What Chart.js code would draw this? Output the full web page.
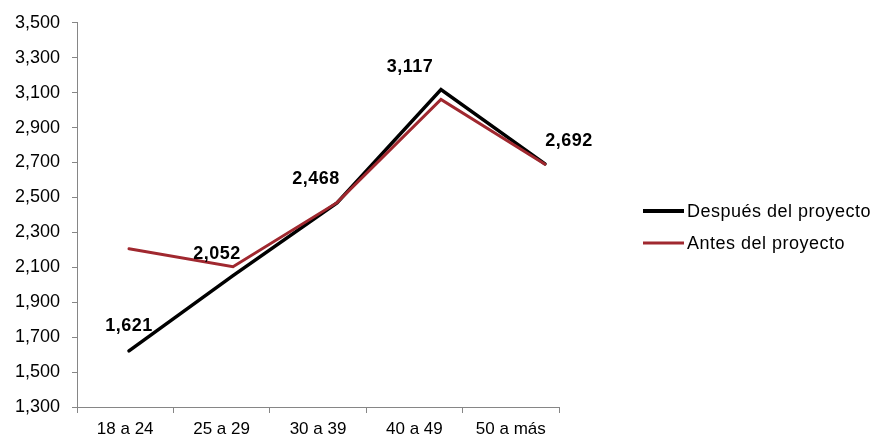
<!DOCTYPE html>
<html>
<head>
<meta charset="utf-8">
<script src="https://cdn.jsdelivr.net/npm/chart.js@4.4.1/dist/chart.umd.min.js"></script>
<style>
  html, body { margin: 0; padding: 0; background: #fff; }
  #wrap { width: 875px; height: 438px; }
</style>
</head>
<body>
<div id="wrap"><canvas id="chart" width="875" height="438"></canvas></div>
<script>
// Age groups and averages
const categories = ['18 a 24', '25 a 29', '30 a 39', '40 a 49', '50 a más'];
const despues = [1621, 2052, 2468, 3117, 2692];
const antes = [2206, 2103, 2470, 3061, 2690];
const seriesNames = ['Después del proyecto', 'Antes del proyecto'];
const yTicks = [1300, 1500, 1700, 1900, 2100, 2300, 2500, 2700, 2900, 3100, 3300, 3500];

const FONT = '"Liberation Sans", Arial, sans-serif';
const BLACK = '#000000';
const RED = '#A0282F';
const AXIS = '#868686';

function fmt(v) {
    return v.toLocaleString('en-US');
}

function toPoints(values) {
    return values.map(function(v, i) { return { x: i, y: v }; });
}

// Value labels for the "después" series (offsets from each point)
const labelOffsets = [[0, -25], [-16, -22], [-21, -24], [-31, -23], [24, -23]];

const valueLabels = {
    id: 'valueLabels',
    afterDatasetsDraw(chart) {
        const ctx = chart.ctx;
        const meta = chart.getDatasetMeta(0);
        ctx.save();
        ctx.font = 'bold 18px ' + FONT;
        ctx.letterSpacing = '0.5px';
        ctx.fillStyle = '#000';
        ctx.textAlign = 'center';
        ctx.textBaseline = 'middle';
        meta.data.forEach(function(pt, i) {
            const off = labelOffsets[i];
            ctx.fillText(fmt(despues[i]), pt.x + off[0], pt.y + off[1]);
        });
        ctx.restore();
    }
};

// Legend on the right, drawn by hand
const sideLegend = {
    id: 'sideLegend',
    afterDraw(chart) {
        const ctx = chart.ctx;
        const items = [
            { text: seriesNames[0], color: BLACK, width: 4, y: 211 },
            { text: seriesNames[1], color: RED, width: 3, y: 243 }
        ];
        ctx.save();
        ctx.font = '18px ' + FONT;
        ctx.letterSpacing = '0.5px';
        ctx.textBaseline = 'middle';
        items.forEach(function(it) {
            ctx.strokeStyle = it.color;
            ctx.lineWidth = it.width;
            ctx.beginPath();
            ctx.moveTo(643, it.y);
            ctx.lineTo(684, it.y);
            ctx.stroke();
            ctx.fillStyle = '#000';
            ctx.fillText(it.text, 687, it.y + 1);
        });
        ctx.restore();
    }
};

new Chart(document.getElementById('chart'), {
    type: 'line',
    data: {
        labels: categories,
        datasets: [
            {
                label: seriesNames[0],
                data: toPoints(despues),
                xAxisID: 'xd',
                borderColor: BLACK,
                borderWidth: 3.5,
                borderCapStyle: 'round',
                borderJoinStyle: 'miter',
                pointRadius: 0,
                tension: 0,
                order: 2
            },
            {
                label: seriesNames[1],
                data: toPoints(antes),
                xAxisID: 'xd',
                borderColor: RED,
                borderWidth: 3,
                borderCapStyle: 'round',
                borderJoinStyle: 'miter',
                pointRadius: 0,
                tension: 0,
                order: 1
            }
        ]
    },
    options: {
        responsive: false,
        animation: false,
        devicePixelRatio: 1,
        layout: {
            padding: { top: 21, right: 316, bottom: 0, left: 0 }
        },
        plugins: {
            legend: { display: false },
            tooltip: { enabled: false }
        },
        scales: {
            x: {
                type: 'category',
                offset: true,
                afterFit: function(scale) { scale.height = 31; },
                grid: {
                    offset: true,
                    drawOnChartArea: false,
                    drawTicks: true,
                    tickLength: 6,
                    color: AXIS
                },
                border: { color: AXIS, width: 1 },
                ticks: {
                    color: '#000',
                    padding: 6,
                    maxRotation: 0,
                    font: { family: FONT, size: 17 }
                }
            },
            // hidden axis that places the line points
            xd: {
                type: 'linear',
                display: false,
                min: -0.5,
                max: 4.135
            },
            y: {
                min: 1300,
                max: 3500,
                afterFit: function(scale) { scale.width = 77; },
                afterBuildTicks: function(scale) {
                    scale.ticks = yTicks.map(function(v) { return { value: v }; });
                },
                grid: {
                    drawOnChartArea: false,
                    drawTicks: true,
                    tickLength: 5,
                    color: AXIS
                },
                border: { color: AXIS, width: 1 },
                ticks: {
                    color: '#000',
                    padding: 12,
                    font: { family: FONT, size: 18 },
                    callback: function(v) { return fmt(v); }
                }
            }
        }
    },
    plugins: [valueLabels, sideLegend]
});
</script>
</body>
</html>
